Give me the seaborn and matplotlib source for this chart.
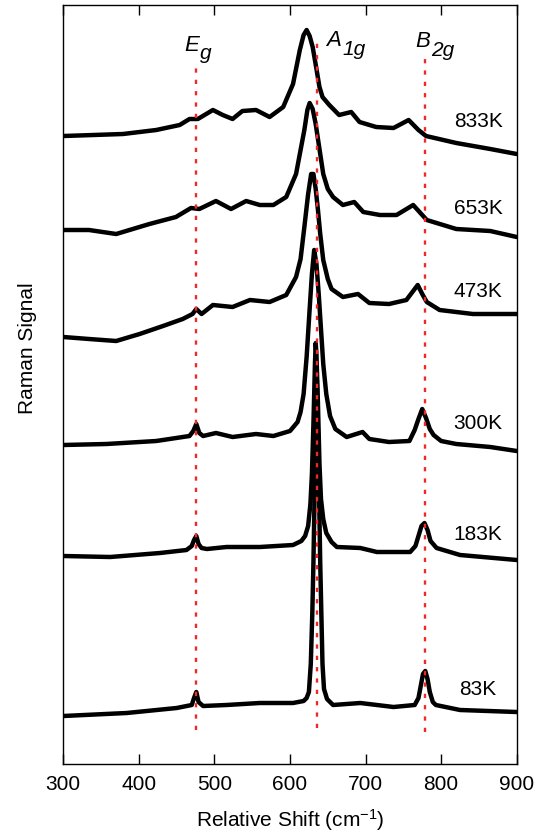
import numpy as np
import pandas as pd
import matplotlib
matplotlib.use("Agg")
import matplotlib.pyplot as plt
import seaborn as sns

# ---------------- data ----------------
temps = ["833K", "653K", "473K", "300K", "183K", "83K"]

x_833 = [300, 340, 379, 423, 454, 467, 478, 498, 511, 524, 537, 555, 573, 591, 604, 613, 618, 622, 626, 630,
         635, 639, 643, 652, 665, 681, 692, 714, 737, 757, 770, 780, 820, 865, 900]
y_833 = [628, 629, 630, 634, 639, 645, 645, 654, 649, 645, 653, 654, 647, 657, 680, 714, 729, 734, 728, 717,
         695, 677, 667, 659, 649, 652, 642, 637, 636, 644, 634, 628, 621, 615, 610]

x_653 = [300, 334, 370, 414, 449, 469, 480, 502, 522, 542, 560, 578, 595, 608, 615, 619, 623, 626, 630, 634,
         637, 640, 644, 650, 657, 670, 685, 697, 719, 741, 763, 781, 820, 865, 900]
y_653 = [534, 534, 530, 540, 547, 556, 555, 563, 555, 563, 559, 559, 567, 590, 618, 634, 654, 661, 655, 640,
         625, 610, 590, 575, 567, 559, 562, 552, 549, 549, 559, 544, 535, 533, 527]

x_473 = [300, 334, 370, 401, 432, 458, 471, 476, 483, 498, 524, 547, 573, 595, 608, 614, 619, 624, 628, 631,
         634, 637, 640, 644, 650, 655, 670, 690, 705, 731, 754, 762, 769, 775, 781, 798, 842, 900]
y_473 = [427, 425, 423, 430, 438, 445, 450, 455, 450, 459, 457, 464, 462, 469, 487, 505, 537, 570, 590, 590,
         575, 554, 530, 504, 485, 475, 467, 470, 461, 460, 464, 472, 479, 470, 462, 454, 450, 450]

x_300 = [300, 357, 423, 467, 472, 476, 480, 485, 502, 524, 555, 578, 600, 610, 614, 618, 622, 626, 629, 632,
         635, 638, 641, 644, 648, 653, 660, 675, 696, 705, 731, 758, 765, 770, 775, 780, 785, 790, 800, 820,
         865, 900]
y_300 = [319, 320, 323, 328, 333, 340, 331, 328, 331, 327, 330, 328, 333, 342, 352, 370, 407, 455, 490, 514,
         500, 470, 435, 400, 370, 348, 335, 327, 332, 325, 322, 323, 334, 345, 355, 346, 335, 329, 323, 320,
         317, 313]

x_183 = [300, 362, 428, 463, 470, 473, 476, 479, 483, 490, 516, 560, 604, 615, 620, 624, 627, 629, 631, 633,
         634, 635, 637, 639, 641, 644, 648, 655, 662, 693, 715, 759, 766, 770, 774, 778, 782, 786, 794, 825,
         900]
y_183 = [208, 207, 211, 214, 218, 224, 228, 220, 216, 215, 217, 217, 219, 223, 228, 238, 260, 290, 340, 400,
         421, 410, 360, 300, 265, 245, 231, 222, 217, 216, 212, 212, 218, 228, 238, 241, 234, 223, 216, 209,
         204]

x_83 = [300, 384, 450, 470, 473, 476, 479, 485, 516, 560, 604, 618, 622, 625, 627.5, 629.5, 631, 633, 635.5, 638,
        640, 641.5, 643, 645, 649, 657, 693, 737, 765, 770, 773, 776, 779, 782, 785, 789, 793, 825, 900]
y_83 = [48, 51, 56, 59, 66, 72, 62, 58, 59, 61, 61, 63, 66, 72, 100, 150, 201, 290, 384, 290,
        201, 150, 100, 75, 65, 59, 61, 57, 59, 66, 78, 90, 93, 85, 72, 62, 59, 54, 52]

label_x = 849
label_y = [637, 550, 467, 335, 224, 69]

mode_main = ["E", "A", "B"]
mode_sub = ["g", "1g", "2g"]
mode_pos = [476, 636, 778]
mode_line_top = [696, 724, 709]
mode_line_bottom = [34, 36, 32]
mode_text_x = [460, 648, 766]
mode_text_y = [713, 718, 717]
mode_sub_dy = [-5.5, -6.8, -6.8]
mode_sub_dx = [11.2, 11.6, 11.2]

xticks = [300, 400, 500, 600, 700, 800, 900]

# ---------------- figure ----------------
sns.set_style("ticks")
plt.rcParams["font.family"] = ["Liberation Sans", "DejaVu Sans"]
plt.rcParams["mathtext.fontset"] = "custom"
plt.rcParams["mathtext.rm"] = "Liberation Sans"
plt.rcParams["mathtext.it"] = "Liberation Sans:italic"
plt.rcParams["lines.solid_joinstyle"] = "round"
plt.rcParams["lines.solid_capstyle"] = "round"
plt.rcParams["text.color"] = "black"
plt.rcParams["axes.labelcolor"] = "black"
plt.rcParams["xtick.color"] = "black"
plt.rcParams["xtick.labelcolor"] = "black"
plt.rcParams["axes.edgecolor"] = "black"

series = [(x_833, y_833), (x_653, y_653), (x_473, y_473), (x_300, y_300), (x_183, y_183), (x_83, y_83)]
frames = []
for t, (xs, ys) in zip(temps, series):
    frames.append(pd.DataFrame({"shift": xs, "signal": ys, "temp": t}))
df = pd.concat(frames, ignore_index=True)

fig = plt.figure(figsize=(5.44, 8.32), dpi=100)
ax = fig.add_axes([63.3 / 544, 68 / 832, 453.4 / 544, 759 / 832])

sns.lineplot(data=df, x="shift", y="signal", units="temp", estimator=None, sort=False,
             color="black", linewidth=3.2, legend=False, ax=ax, zorder=2)

# red dotted mode lines
for xp, y0, y1 in zip(mode_pos, mode_line_bottom, mode_line_top):
    ax.plot([xp, xp], [y0, y1], color="#f02828", linewidth=1.7,
            linestyle=(0, (1.8, 3.0)), zorder=3)

# mode labels
for m, s, tx, ty, dx, dy in zip(mode_main, mode_sub, mode_text_x, mode_text_y, mode_sub_dx, mode_sub_dy):
    ax.text(tx, ty, m, fontsize=16, style="italic", ha="left", va="baseline", color="black")
    ax.annotate(s, xy=(tx, ty), xytext=(dx, dy), textcoords="offset points",
                fontsize=15, style="italic", ha="left", va="baseline", color="black")

# temperature labels
for t, ly in zip(temps, label_y):
    ax.text(label_x, ly, t, fontsize=15, ha="center", va="baseline", color="black")

ax.set_xlim(300, 900)
ax.set_ylim(0, 759)
ax.set_xticks(xticks)
ax.set_xticklabels([str(v) for v in xticks])
ax.set_yticks([])
ax.tick_params(axis="x", direction="in", length=7, width=1, top=True, labelsize=15, pad=8,
               color="black", labelcolor="black")
for sp in ax.spines.values():
    sp.set_visible(True)
    sp.set_color("black")
    sp.set_linewidth(1.0)

ax.set_xlabel("Relative Shift (cm$^{-1}$)", fontsize=15, labelpad=9, color="black")
ax.set_ylabel("Raman Signal", fontsize=15, color="black")
ax.yaxis.set_label_coords(-0.0587, (764 - 348) / 759)

fig.savefig("out.png", dpi=100)
